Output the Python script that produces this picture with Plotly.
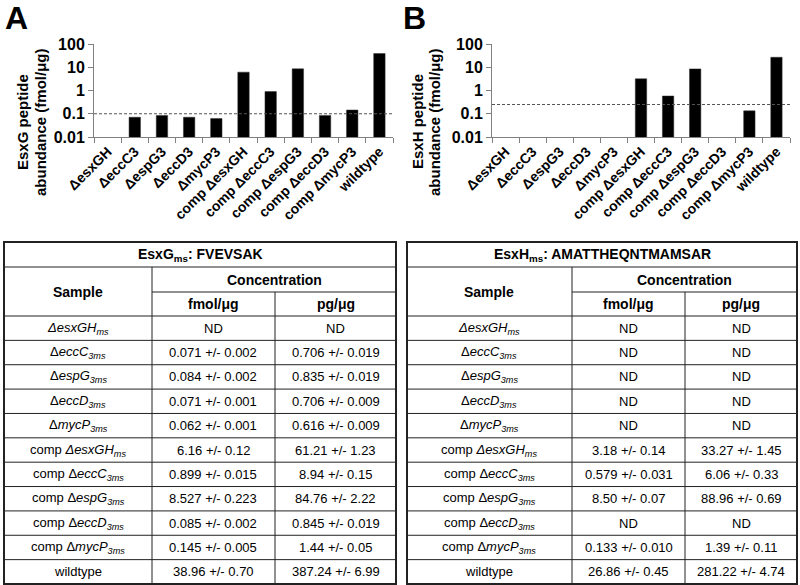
import plotly.graph_objects as go

W, H = 800, 585
FONT = "Liberation Sans, Arial, sans-serif"

# ---------------- data ----------------
categories = ["ΔesxGH", "ΔeccC3", "ΔespG3", "ΔeccD3", "ΔmycP3",
              "comp ΔesxGH", "comp ΔeccC3", "comp ΔespG3", "comp ΔeccD3",
              "comp ΔmycP3", "wildtype"]
esxg_values = [None, 0.071, 0.084, 0.071, 0.062, 6.16, 0.899, 8.527, 0.085, 0.145, 38.96]
esxh_values = [None, None, None, None, None, 3.18, 0.579, 8.50, None, 0.133, 26.86]
esxg_limit = 0.1
esxh_limit = 0.25

y_tickvals = [0.01, 0.1, 1, 10, 100]
y_ticktext = ["0.01", "0.1", "1", "10", "100"]

table_samples = ["<i>ΔesxGH<sub>ms</sub></i>", "Δ<i>eccC<sub>3ms</sub></i>",
                 "Δ<i>espG<sub>3ms</sub></i>", "Δ<i>eccD<sub>3ms</sub></i>",
                 "Δ<i>mycP<sub>3ms</sub></i>", "comp <i>ΔesxGH<sub>ms</sub></i>",
                 "comp Δ<i>eccC<sub>3ms</sub></i>", "comp Δ<i>espG<sub>3ms</sub></i>",
                 "comp Δ<i>eccD<sub>3ms</sub></i>", "comp Δ<i>mycP<sub>3ms</sub></i>",
                 "wildtype"]
esxg_fmol = ["ND", "0.071 +/- 0.002", "0.084 +/- 0.002", "0.071 +/- 0.001",
             "0.062 +/- 0.001", "6.16 +/- 0.12", "0.899 +/- 0.015", "8.527 +/- 0.223",
             "0.085 +/- 0.002", "0.145 +/- 0.005", "38.96 +/- 0.70"]
esxg_pg = ["ND", "0.706 +/- 0.019", "0.835 +/- 0.019", "0.706 +/- 0.009",
           "0.616 +/- 0.009", "61.21 +/- 1.23", "8.94 +/- 0.15", "84.76 +/- 2.22",
           "0.845 +/- 0.019", "1.44 +/- 0.05", "387.24 +/- 6.99"]
esxh_fmol = ["ND", "ND", "ND", "ND", "ND", "3.18 +/- 0.14", "0.579 +/- 0.031",
             "8.50 +/- 0.07", "ND", "0.133 +/- 0.010", "26.86 +/- 0.45"]
esxh_pg = ["ND", "ND", "ND", "ND", "ND", "33.27 +/- 1.45", "6.06 +/- 0.33",
           "88.96 +/- 0.69", "ND", "1.39 +/- 0.11", "281.22 +/- 4.74"]
esxg_title = "<b>EsxG<sub>ms</sub>: FVEVSAK</b>"
esxh_title = "<b>EsxH<sub>ms</sub>: AMATTHEQNTMAMSAR</b>"


def X(px):
    return px / W


def Y(py):
    return 1 - py / H


fig = go.Figure()
fig.add_trace(go.Bar(x=categories, y=esxg_values, marker=dict(color="black", line=dict(color="#333", width=0.5)),
                     xaxis="x", yaxis="y", showlegend=False))
fig.add_trace(go.Bar(x=categories, y=esxh_values, marker=dict(color="black", line=dict(color="#333", width=0.5)),
                     xaxis="x2", yaxis="y2", showlegend=False))

xax = dict(type="category", tickson="boundaries", ticks="outside", ticklen=5, tickcolor="#808080",
           tickangle=-45, tickfont=dict(family=FONT, size=14, color="black", weight="bold"),
           showline=True, linecolor="#808080", linewidth=1, showgrid=False, zeroline=False,
           automargin=False, range=[-0.5, len(categories) - 0.5])
yax = dict(type="log", range=[-2, 2], tickvals=y_tickvals, ticktext=y_ticktext,
           ticks="outside", ticklen=5, tickcolor="#808080", showline=True, linecolor="#808080",
           linewidth=1, showgrid=False, zeroline=False, automargin=False,
           tickfont=dict(family=FONT, size=16, color="black", weight="bold"),
           domain=[Y(137), Y(44)])

fig.update_layout(
    template="none",
    width=W, height=H, margin=dict(l=0, r=0, t=0, b=0, autoexpand=False),
    paper_bgcolor="white", plot_bgcolor="white", bargap=0.58,
    xaxis=dict(xax, domain=[X(94), X(393)], anchor="y"),
    yaxis=dict(yax, anchor="x"),
    xaxis2=dict(xax, domain=[X(492), X(790)], anchor="y2"),
    yaxis2=dict(yax, anchor="x2"),
    font=dict(family=FONT, color="black"),
)

shapes = []
# limit lines
shapes.append(dict(type="line", xref="x domain", yref="y", x0=0, x1=1, y0=esxg_limit, y1=esxg_limit,
                   line=dict(color="#555", width=1, dash="3px,2px")))
shapes.append(dict(type="line", xref="x2 domain", yref="y2", x0=0, x1=1, y0=esxh_limit, y1=esxh_limit,
                   line=dict(color="#555", width=1, dash="3px,2px")))
# white cover (tick labels clipped above the tables)
shapes.append(dict(type="rect", xref="paper", yref="paper", x0=0, x1=1, y0=0, y1=Y(228),
                   fillcolor="white", line=dict(width=0), layer="above"))

annotations = []
# panel letters
for letter, px in (("A", 3), ("B", 401)):
    annotations.append(dict(text="<b>%s</b>" % letter, x=X(px), y=Y(-2), xref="paper", yref="paper",
                            xanchor="left", yanchor="top", showarrow=False,
                            font=dict(family=FONT, size=32, color="black")))
# y titles
for lines, cx in ((("EsxG peptide", "abundance (fmol/μg)"), (22, 40)),
                  (("EsxH peptide", "abundance (fmol/μg)"), (417, 434))):
    for txt, px in zip(lines, cx):
        annotations.append(dict(text="<b>%s</b>" % txt, x=X(px), y=Y(122), xref="paper", yref="paper",
                                xanchor="center", yanchor="middle", textangle=-90, showarrow=False,
                                font=dict(family=FONT, size=15, color="black")))


def add_table(x0, x1, x2, x3, title, fmol, pg):
    y0, y1, y2, y3 = 242, 267, 292, 316
    row_h = (584 - y3) / len(table_samples)
    yb = y3 + row_h * len(table_samples)
    ln = dict(color="#222", width=1)
    # horizontal lines
    shapes.append(dict(type="line", xref="paper", yref="paper", x0=X(x0), x1=X(x3), y0=Y(y1), y1=Y(y1), line=ln, layer="above"))
    shapes.append(dict(type="line", xref="paper", yref="paper", x0=X(x1), x1=X(x3), y0=Y(y2), y1=Y(y2), line=ln, layer="above"))
    for i in range(len(table_samples)):
        yy = y3 + i * row_h
        shapes.append(dict(type="line", xref="paper", yref="paper", x0=X(x0), x1=X(x3), y0=Y(yy), y1=Y(yy), line=ln, layer="above"))
    # vertical lines
    shapes.append(dict(type="line", xref="paper", yref="paper", x0=X(x1), x1=X(x1), y0=Y(y1), y1=Y(yb), line=ln, layer="above"))
    shapes.append(dict(type="line", xref="paper", yref="paper", x0=X(x2), x1=X(x2), y0=Y(y2), y1=Y(yb), line=ln, layer="above"))
    # outer border
    shapes.append(dict(type="rect", xref="paper", yref="paper", x0=X(x0), x1=X(x3), y0=Y(yb), y1=Y(y0),
                       line=dict(color="#222", width=2), layer="above"))

    def txt(t, cx, cy, bold=False, size=13):
        annotations.append(dict(text=("<b>%s</b>" % t) if bold else t, x=X(cx), y=Y(cy), xref="paper", yref="paper",
                                xanchor="center", yanchor="middle", showarrow=False,
                                font=dict(family=FONT, size=size, color="black")))

    txt(title, (x0 + x3) / 2, (y0 + y1) / 2, size=14)
    txt("Sample", (x0 + x1) / 2, (y1 + y3) / 2, True, 14)
    txt("Concentration", (x1 + x3) / 2, (y1 + y2) / 2, True, 14)
    txt("fmol/μg", (x1 + x2) / 2, (y2 + y3) / 2, True, 14)
    txt("pg/μg", (x2 + x3) / 2, (y2 + y3) / 2, True, 14)
    for i, s in enumerate(table_samples):
        cy = y3 + (i + 0.5) * row_h
        txt(s, (x0 + x1) / 2, cy)
        txt(fmol[i], (x1 + x2) / 2, cy)
        txt(pg[i], (x2 + x3) / 2, cy)


add_table(4, 152, 275, 396, esxg_title, esxg_fmol, esxg_pg)
add_table(407, 572, 685, 797, esxh_title, esxh_fmol, esxh_pg)

fig.update_layout(shapes=shapes, annotations=annotations)
fig.write_html("out.html", config={"displayModeBar": False},
               post_script="document.body.style.margin='0';document.body.style.overflow='hidden';")
